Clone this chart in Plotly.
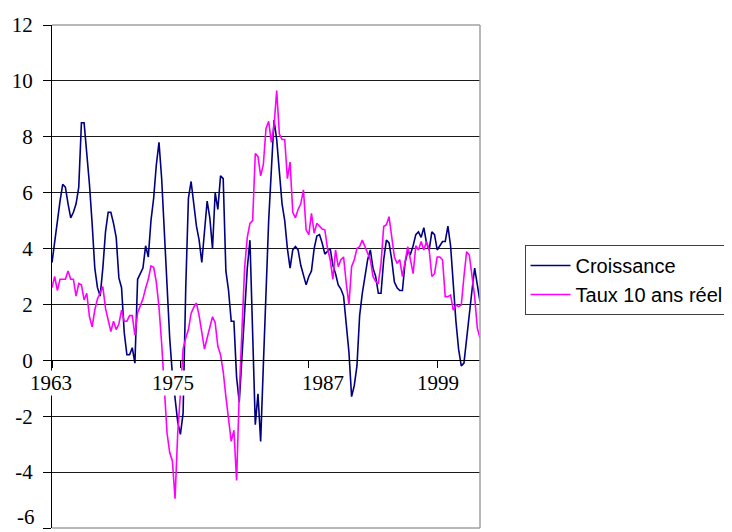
import plotly.graph_objects as go

# Quarterly observations, 1963 Q1 .. 2003 Q1
start_year = 1963
croissance = [
    3.5, 4.3, 4.9, 5.7, 6.3, 6.2, 5.6, 5.1, 5.3, 5.6,
    6.2, 8.5, 8.5, 7.5, 6.3, 4.9, 3.3, 2.6, 2.3, 3.3,
    4.6, 5.3, 5.3, 4.9, 4.4, 2.95, 2.6, 1.0, 0.2, 0.2,
    0.45, -0.1, 2.9, 3.1, 3.3, 4.1, 3.7, 5.0, 5.8, 7.0,
    7.8, 6.5, 4.6, 3.2, 0.8, -0.5, -1.3, -2.2, -2.65, -1.9,
    2.6, 5.8, 6.4, 5.6, 4.8, 4.3, 3.5, 4.6, 5.7, 5.1,
    4.0, 6.0, 5.4, 6.6, 6.5, 3.2, 2.5, 1.4, 1.4, -0.6,
    -1.5, 0.1, 1.9, 3.3, 4.3, 0.5, -2.3, -1.2, -2.9, -0.2,
    2.4, 5.0, 6.8, 8.6, 7.9, 6.6, 5.6, 5.0, 4.0, 3.3,
    3.95, 4.07, 3.95, 3.4, 3.0, 2.7, 3.0, 3.2, 4.0, 4.45,
    4.5, 4.2, 3.8, 3.9, 4.0, 3.4, 3.1, 2.7, 2.55, 2.3,
    1.3, 0.3, -1.3, -0.9, -0.2, 1.6, 2.4, 3.0, 3.6, 3.95,
    3.3, 3.0, 2.4, 2.4, 3.6, 4.3, 4.2, 3.6, 2.8, 2.6,
    2.5, 2.5, 3.5, 3.9, 3.8, 4.1, 4.5, 4.6, 4.4, 4.75,
    4.2, 3.95, 4.6, 4.5, 3.95, 4.1, 4.25, 4.25, 4.8, 4.1,
    2.6, 1.4, 0.4, -0.2, -0.1, 0.8, 1.8, 2.5, 3.3, 2.6,
    2.1,
]
taux_reel = [
    2.6, 3.0, 2.5, 2.9, 2.9, 2.9, 3.2, 2.9, 2.9, 2.3,
    2.75, 2.7, 2.16, 2.4, 1.56, 1.2, 1.8, 2.2, 2.4, 2.64,
    1.86, 1.4, 1.03, 1.4, 1.1, 1.3, 1.8, 1.4, 1.4, 1.6,
    1.6, 0.9, 1.7, 1.95, 2.2, 2.58, 2.9, 3.38, 3.33, 2.8,
    1.9, 0.6, -1.0, -2.6, -3.3, -3.6, -4.95, -2.6, -1.2, 0.4,
    0.8, 1.1, 1.68, 1.9, 2.05, 1.6, 1.0, 0.4, 0.8, 1.2,
    1.56, 1.35, 0.5, 0.2, -0.4, -1.3, -2.1, -2.9, -2.5, -4.3,
    -1.2, 1.4, 3.3, 4.4, 4.9, 5.0, 7.4, 7.3, 6.6, 7.0,
    8.3, 8.55, 7.8, 8.4, 9.65, 8.1, 7.9, 7.9, 6.5, 7.1,
    5.3, 5.1, 5.4, 5.6, 6.1, 4.67, 4.5, 5.26, 4.55, 4.9,
    4.8, 4.7, 4.67, 4.0, 3.6, 2.9, 3.95, 3.35, 3.6, 3.7,
    2.76, 2.0, 3.35, 3.6, 4.0, 4.07, 4.3, 4.07, 3.83, 3.6,
    3.0, 2.82, 2.76, 3.47, 4.79, 4.85, 5.14, 4.43, 3.7, 3.47,
    3.6, 3.0, 3.6, 4.07, 3.6, 3.1, 4.1, 3.95, 4.25, 3.95,
    4.25, 3.95, 3.0, 3.1, 3.7, 3.7, 3.6, 2.28, 2.28, 2.34,
    1.8, 1.98, 1.92, 1.98, 3.0, 3.89, 3.77, 3.0, 2.28, 1.15,
    0.8,
]
x_ticks = [1963, 1975, 1987, 1999]
x_tick_labels = ["1963", "1975", "1987", "1999"]
y_ticks = [-6, -4, -2, 0, 2, 4, 6, 8, 10, 12]
y_tick_labels = ["-6", "-4", "-2", "0", "2", "4", "6", "8", "10", "12"]
series_names = ["Croissance", "Taux 10 ans réel"]

assert len(croissance) == len(taux_reel) == 161
dates = [start_year + q / 4 for q in range(len(croissance))]

fig = go.Figure()
fig.add_trace(go.Scatter(x=dates, y=croissance, mode="lines", name=series_names[0],
                         line=dict(color="#000080", width=1.6)))
fig.add_trace(go.Scatter(x=dates, y=taux_reel, mode="lines", name=series_names[1],
                         line=dict(color="#ff00ff", width=1.6)))

serif = "Liberation Serif, Times New Roman, serif"
label_shift = {1963: -1, 1975: -7, 1987: 14, 1999: 1}
for xv, txt in zip(x_ticks, x_tick_labels):
    fig.add_annotation(x=xv, y=0, xref="x", yref="y", text=txt, showarrow=False,
                       xanchor="center", yanchor="middle", yshift=-23, xshift=label_shift[xv],
                       font=dict(family=serif, size=21, color="black"),
                       bgcolor="white", borderpad=0)

# the bottom y label sits at the very edge of the page: draw it as text nudged up
shown_ticktext = [("" if v == y_ticks[0] else t) for v, t in zip(y_ticks, y_tick_labels)]
fig.add_annotation(x=0, y=y_ticks[0], xref="paper", yref="y", text=y_tick_labels[0],
                   showarrow=False, xanchor="right", yanchor="bottom", xshift=-15, yshift=-3,
                   font=dict(family=serif, size=21, color="black"))

grey = "#a0a0a0"
for (x0, y0, x1, y1) in [(0, 1, 1, 1), (1, 0, 1, 1), (0, 0, 1, 0)]:
    fig.add_shape(type="line", xref="paper", yref="paper", x0=x0, y0=y0, x1=x1, y1=y1,
                  line=dict(color=grey, width=1.5), layer="above")

fig.update_layout(
    width=724, height=524,
    margin=dict(l=44, r=250, t=17, b=4),
    paper_bgcolor="white", plot_bgcolor="white",
    showlegend=True,
    legend=dict(x=1.104, y=0.5626, xanchor="left", yanchor="top",
                bordercolor="#404040", borderwidth=1, bgcolor="white",
                font=dict(family="Liberation Sans, Arial, sans-serif", size=20, color="black"),
                tracegroupgap=0, itemwidth=40),
    xaxis=dict(range=[1963, 2003], anchor="free", position=1/3,
               showline=True, linecolor="black", linewidth=1.2,
               ticks="outside", ticklen=7, tickcolor="black", tickvals=x_ticks,
               showticklabels=False, showgrid=False, zeroline=False),
    yaxis=dict(range=[-6, 12], tickvals=y_ticks, ticktext=shown_ticktext,
               showline=True, linecolor="black", linewidth=1.2,
               ticks="outside", ticklen=8, tickcolor="black", ticklabelstandoff=6,
               tickfont=dict(family=serif, size=21, color="black"),
               showgrid=True, gridcolor="#1a1a1a", gridwidth=1, zeroline=False),
)

fig.write_html("out.html")
